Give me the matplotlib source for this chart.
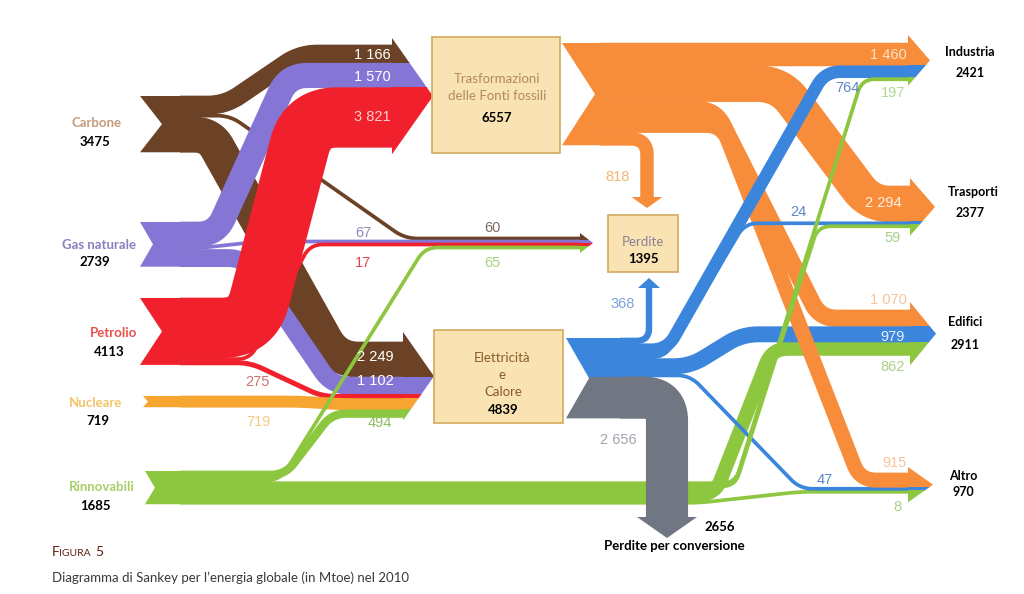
import numpy as np
import matplotlib.pyplot as plt
from matplotlib.patches import Polygon, Rectangle

# Sankey dell'energia globale 2010 (Mtoe)
sources = ['Carbone', 'Gas naturale', 'Petrolio', 'Nucleare', 'Rinnovabili']
source_totals = [3475, 2739, 4113, 719, 1685]
uses = ['Industria', 'Trasporti', 'Edifici', 'Altro']
use_totals = [2421, 2377, 2911, 970]
trasf_total = 6557
elettr_total = 4839
perdite_total = 1395
conversione_total = 2656

flow_src = ['Carbone', 'Carbone', 'Carbone',
            'Gas naturale', 'Gas naturale', 'Gas naturale',
            'Petrolio', 'Petrolio', 'Petrolio',
            'Nucleare',
            'Rinnovabili', 'Rinnovabili', 'Rinnovabili', 'Rinnovabili', 'Rinnovabili', 'Rinnovabili',
            'Trasf', 'Trasf', 'Trasf', 'Trasf', 'Trasf',
            'Elettr', 'Elettr', 'Elettr', 'Elettr', 'Elettr', 'Elettr']
flow_dst = ['Trasf', 'Perdite', 'Elettr',
            'Trasf', 'Perdite', 'Elettr',
            'Trasf', 'Perdite', 'Elettr',
            'Elettr',
            'Elettr', 'Perdite', 'Industria', 'Trasporti', 'Edifici', 'Altro',
            'Industria', 'Trasporti', 'Edifici', 'Altro', 'Perdite',
            'Perdite', 'Industria', 'Trasporti', 'Edifici', 'Altro', 'Conversione']
flow_val = [1166, 60, 2249,
            1570, 67, 1102,
            3821, 17, 275,
            719,
            494, 65, 197, 59, 862, 8,
            1460, 2294, 1070, 915, 818,
            368, 764, 24, 979, 47, 2656]

# ---------------- layout ----------------
K = 0.0156      # pixel per Mtoe
WMIN = 3.0

def width(v):
    return max(v * K, WMIN)

node_color = {'Carbone': '#6b4226', 'Gas naturale': '#8576d6', 'Petrolio': '#f0202c',
              'Nucleare': '#f7a531', 'Rinnovabili': '#8dc63f', 'Trasf': '#f78d3a',
              'Elettr': '#3b86dc'}
gray = '#707682'

# x coda, x fine coda, y alto, profondita' tacca
src_layout = {'Carbone': (140, 180, 96, 22), 'Gas naturale': (140, 180, 222, 13),
              'Petrolio': (140, 180, 298, 22), 'Nucleare': (143, 180, 396, 5),
              'Rinnovabili': (145, 180, 471, 10), 'Trasf': (562, 600, 43, 33),
              'Elettr': (566, 620, 338, 23)}
# x inizio punta, x punta, y alto, sporgenza sopra, sporgenza sotto
dst_layout = {'Trasf': (392, 433, 45, 7, 7), 'Elettr': (403, 434, 342, 10, 3),
              'Perdite': (580, 593, 237, 4, 4), 'Industria': (908, 930, 43, 8, 5),
              'Trasporti': (910, 935, 186, 8, 8), 'Edifici': (910, 936, 310, 8, 10),
              'Altro': (908, 933, 473, 6, 9)}
rank = {'Carbone': 0, 'Gas naturale': 1, 'Petrolio': 2, 'Nucleare': 3,
        'Trasf': 4, 'Elettr': 5, 'Rinnovabili': 6}
# frecce verticali: x, y fine, mezza larghezza punta, lunghezza punta
vertical_ends = {('Trasf', 'Perdite'): (647, 197, 15.5, 11),
                 ('Elettr', 'Perdite'): (649, 288, 11, 10),
                 ('Elettr', 'Conversione'): (667, 517, 30, 21)}
bends = {('Carbone', 'Trasf'): (225, 300), ('Carbone', 'Perdite'): (230, 405),
         ('Carbone', 'Elettr'): (210, 336), ('Gas naturale', 'Trasf'): (216, 288),
         ('Gas naturale', 'Perdite'): (200, 260), ('Gas naturale', 'Elettr'): (245, 332),
         ('Petrolio', 'Trasf'): (252, 307), ('Petrolio', 'Perdite'): (250, 310),
         ('Petrolio', 'Elettr'): (250, 322), ('Nucleare', 'Elettr'): (300, 340),
         ('Rinnovabili', 'Elettr'): (285, 332), ('Rinnovabili', 'Perdite'): (280, 425),
         ('Rinnovabili', 'Industria'): (735, 862), ('Rinnovabili', 'Trasporti'): (735, 818),
         ('Rinnovabili', 'Edifici'): (715, 772), ('Rinnovabili', 'Altro'): (700, 800),
         ('Trasf', 'Industria'): (700, 800), ('Trasf', 'Trasporti'): (780, 870),
         ('Trasf', 'Edifici'): (715, 820), ('Trasf', 'Altro'): (722, 860),
         ('Elettr', 'Industria'): (667, 825), ('Elettr', 'Trasporti'): (665, 745),
         ('Elettr', 'Edifici'): (690, 742), ('Elettr', 'Altro'): (690, 800)}
zorders = {('Carbone', 'Trasf'): 2, ('Carbone', 'Perdite'): 2, ('Carbone', 'Elettr'): 2,
           ('Gas naturale', 'Trasf'): 3, ('Gas naturale', 'Perdite'): 3,
           ('Gas naturale', 'Elettr'): 3, ('Petrolio', 'Perdite'): 3.5,
           ('Petrolio', 'Trasf'): 4, ('Petrolio', 'Elettr'): 4, ('Nucleare', 'Elettr'): 4,
           ('Rinnovabili', 'Elettr'): 4, ('Rinnovabili', 'Perdite'): 5,
           ('Rinnovabili', 'Industria'): 6, ('Rinnovabili', 'Trasporti'): 6,
           ('Rinnovabili', 'Edifici'): 2, ('Rinnovabili', 'Altro'): 2,
           ('Trasf', 'Altro'): 4, ('Elettr', 'Industria'): 5, ('Elettr', 'Trasporti'): 5,
           ('Elettr', 'Edifici'): 3.5, ('Elettr', 'Altro'): 3.5,
           ('Elettr', 'Conversione'): 7}


def rounded(points, r, n=16):
    pts = [np.array(points[0], float)]
    for p in points[1:]:
        p = np.array(p, float)
        if np.hypot(*(p - pts[-1])) > 0.5:
            pts.append(p)
    out = [pts[0]]
    for i in range(1, len(pts) - 1):
        p0, p1, p2 = pts[i - 1], pts[i], pts[i + 1]
        v1, v2 = p1 - p0, p2 - p1
        l1, l2 = np.hypot(*v1), np.hypot(*v2)
        d = min(r, l1 / 2, l2 / 2)
        a, b = p1 - v1 / l1 * d, p1 + v2 / l2 * d
        t = np.linspace(0, 1, n)[:, None]
        out.extend((1 - t) ** 2 * a + 2 * (1 - t) * t * p1 + t ** 2 * b)
    out.append(pts[-1])
    return np.array(out)


fig = plt.figure(figsize=(10.24, 5.94), dpi=100)
ax = fig.add_axes([0, 0, 1, 1])
ax.set_xlim(0, 1024)
ax.set_ylim(594, 0)
ax.axis('off')

flows = list(zip(flow_src, flow_dst, flow_val))
n = len(flows)
w = [width(v) for v in flow_val]
cols = [gray if d == 'Conversione' else node_color[s] for s, d, v in flows]

# posizioni in pila alle sorgenti
ys = [0.0] * n
src_cum = {}
for i, (s, d, v) in enumerate(flows):
    c = src_cum.get(s, 0.0)
    ys[i] = src_layout[s][2] + c + w[i] / 2
    src_cum[s] = c + w[i]

# posizioni in pila alle destinazioni + punte di freccia
yd = [0.0] * n
for d, (xh, xt, top, ovt, ovb) in dst_layout.items():
    idx = [i for i, f in enumerate(flows) if f[1] == d and (f[0], f[1]) not in vertical_ends]
    idx.sort(key=lambda i: rank[flows[i][0]])
    c = 0.0
    for i in idx:
        yd[i] = top + c + w[i] / 2
        c += w[i]
    bot = top + c
    tri = Polygon([(xh, top - ovt), (xt, (top - ovt + bot + ovb) / 2), (xh, bot + ovb)],
                  closed=True, transform=ax.transData)
    for j, i in enumerate(idx):
        y0 = yd[i] - w[i] / 2 - (ovt if j == 0 else 0.3)
        y1 = yd[i] + w[i] / 2 + (ovb if j == len(idx) - 1 else 0.3)
        rect = Rectangle((xh - 0.5, y0), xt - xh + 1, y1 - y0, color=cols[i], lw=0, zorder=6)
        ax.add_patch(rect)
        rect.set_clip_path(tri)

# code a coda di rondine
for s, (x0, x1, top, depth) in src_layout.items():
    bot = top + src_cum[s]
    tail = Polygon([(x0, top), (x1 + 1, top), (x1 + 1, bot), (x0, bot), (x0 + depth, (top + bot) / 2)],
                   closed=True, transform=ax.transData)
    for i, f in enumerate(flows):
        if f[0] != s:
            continue
        rect = Rectangle((x0, ys[i] - w[i] / 2 - 0.3), x1 + 1 - x0, w[i] + 0.6,
                         color=cols[i], lw=0, zorder=4.5)
        ax.add_patch(rect)
        rect.set_clip_path(tail)

# nastri
for i, (s, d, v) in enumerate(flows):
    key = (s, d)
    x1 = src_layout[s][1]
    z = zorders.get(key, 3)
    if key in vertical_ends:
        xv, yend, hw, hl = vertical_ends[key]
        pts = [(x1, ys[i]), (xv, ys[i]), (xv, yend)]
        r = 10 + 0.5 * w[i]
        sgn = 1 if yend > ys[i] else -1
        ax.add_patch(Polygon([(xv - hw, yend), (xv + hw, yend), (xv, yend + sgn * hl)],
                             closed=True, color=cols[i], lw=0, zorder=z))
    else:
        xa, xb = bends[key]
        pts = [(x1, ys[i]), (xa, ys[i]), (xb, yd[i]), (dst_layout[d][0], yd[i])]
        r = 12 + 0.3 * w[i]
    path = rounded(pts, r)
    ax.plot(path[:, 0], path[:, 1], color=cols[i], lw=(w[i] + 0.7) * 72 / fig.dpi,
            solid_capstyle='butt', solid_joinstyle='round', zorder=z)

# riquadri
box_fc, box_ec = '#f9e3b2', '#d6b066'
for (bx, by, bw, bh) in [(432, 37, 128, 116), (434, 330, 129, 93), (608, 215, 70, 57)]:
    ax.add_patch(Rectangle((bx, by), bw, bh, facecolor=box_fc, edgecolor=box_ec, lw=1.3, zorder=8))

NAME = 'Lato'
NUM = 'Liberation Sans'


def fmt(v):
    return f'{v:,}'.replace(',', ' ')


def txt(x, y, s, color='black', size=9, weight='bold', family=NAME, ha='center'):
    ax.text(x, y, s, color=color, fontsize=size, fontweight=weight, family=family,
            ha=ha, va='center', zorder=10)


# etichette sorgenti
src_label_pos = [(97, 123, 95, 142), (99, 245, 95, 262), (114, 333, 109, 352),
                 (95, 403, 98, 421), (102, 487, 95, 506)]
src_label_col = ['#c39c7e', '#8a80c2', '#e8504a', '#f2c468', '#a8cf6c']
for name, tot, (xl, yl, xn, yn), c in zip(sources, source_totals, src_label_pos, src_label_col):
    txt(xl, yl, name, color=c, size=9.5)
    txt(xn, yn, str(tot), size=9.5)

# etichette usi finali
use_label_pos = [(970, 52, 970, 73), (973, 192, 970, 213), (965, 322, 965, 345), (963, 476, 963, 492)]
for name, tot, (xl, yl, xn, yn) in zip(uses, use_totals, use_label_pos):
    txt(xl, yl, name, size=9)
    txt(xn, yn, str(tot), size=9)

# testi nei riquadri
txt(497, 79, 'Trasformazioni', color='#b38a5e', size=9.5, weight='normal')
txt(497, 96, 'delle Fonti fossili', color='#b38a5e', size=9.5, weight='normal')
txt(497, 118, str(trasf_total), size=9.5)
txt(502, 358, 'Elettricità', color='#8b5a2b', size=9.5, weight='normal')
txt(502, 375, 'e', color='#8b5a2b', size=9.5, weight='normal')
txt(503, 392, 'Calore', color='#8b5a2b', size=9.5, weight='normal')
txt(503, 410, str(elettr_total), size=9.5)
txt(643, 242, 'Perdite', color='#8a7f95', size=9.5, weight='normal')
txt(643, 259, str(perdite_total), size=9.5)
txt(720, 527, str(conversione_total), size=9.5)
txt(674, 546, 'Perdite per conversione', size=9.5)

# etichette dei flussi
flow_label_pos = {('Carbone', 'Trasf'): (372, 55, 'white'), ('Carbone', 'Perdite'): (492, 228, '#7d6b60'),
                  ('Carbone', 'Elettr'): (375, 357, 'white'),
                  ('Gas naturale', 'Trasf'): (372, 77, 'white'), ('Gas naturale', 'Perdite'): (363, 233, '#8e8bb8'),
                  ('Gas naturale', 'Elettr'): (375, 381, 'white'),
                  ('Petrolio', 'Trasf'): (372, 117, '#ffd0d0'), ('Petrolio', 'Perdite'): (363, 263, '#e6454a'),
                  ('Petrolio', 'Elettr'): (257, 382, '#d07070'),
                  ('Nucleare', 'Elettr'): (258, 422, '#f3ca84'),
                  ('Rinnovabili', 'Elettr'): (380, 423, '#8cc060'), ('Rinnovabili', 'Perdite'): (492, 263, '#a8d080'),
                  ('Rinnovabili', 'Industria'): (893, 93, '#b0d890'), ('Rinnovabili', 'Trasporti'): (893, 238, '#a8d088'),
                  ('Rinnovabili', 'Edifici'): (893, 367, '#a8d088'), ('Rinnovabili', 'Altro'): (897, 507, '#a8d088'),
                  ('Trasf', 'Industria'): (888, 55, '#fde2c8'), ('Trasf', 'Trasporti'): (883, 203, '#fff1e4'),
                  ('Trasf', 'Edifici'): (888, 300, '#f7c49a'), ('Trasf', 'Altro'): (895, 463, '#f5c49a'),
                  ('Trasf', 'Perdite'): (618, 177, '#f5b46e'),
                  ('Elettr', 'Perdite'): (623, 304, '#7fa3d8'), ('Elettr', 'Industria'): (847, 88, '#5f86c8'),
                  ('Elettr', 'Trasporti'): (798, 212, '#5f86c8'), ('Elettr', 'Edifici'): (893, 337, '#e8eefc'),
                  ('Elettr', 'Altro'): (825, 480, '#5f86c8'), ('Elettr', 'Conversione'): (618, 440, '#a0a4ae')}
for (s, d, v) in flows:
    x, y, c = flow_label_pos[(s, d)]
    txt(x, y, fmt(v), color=c, size=10.5, weight='normal', family=NUM)

# didascalia
ax.text(52, 556, 'F', color='#5a1e10', fontsize=10, family=NAME, ha='left', va='baseline', zorder=10)
ax.text(59, 556, 'IGURA', color='#5a1e10', fontsize=7.5, family=NAME, ha='left', va='baseline', zorder=10)
ax.text(95, 556, '5', color='#5a1e10', fontsize=10, family=NAME, ha='left', va='baseline', zorder=10)
ax.text(52, 578, 'Diagramma di Sankey per l’energia globale (in Mtoe) nel 2010', color='#3a3a3a',
        fontsize=9.5, family=NAME, ha='left', va='center', zorder=10)

fig.savefig('out.png', dpi=100)
